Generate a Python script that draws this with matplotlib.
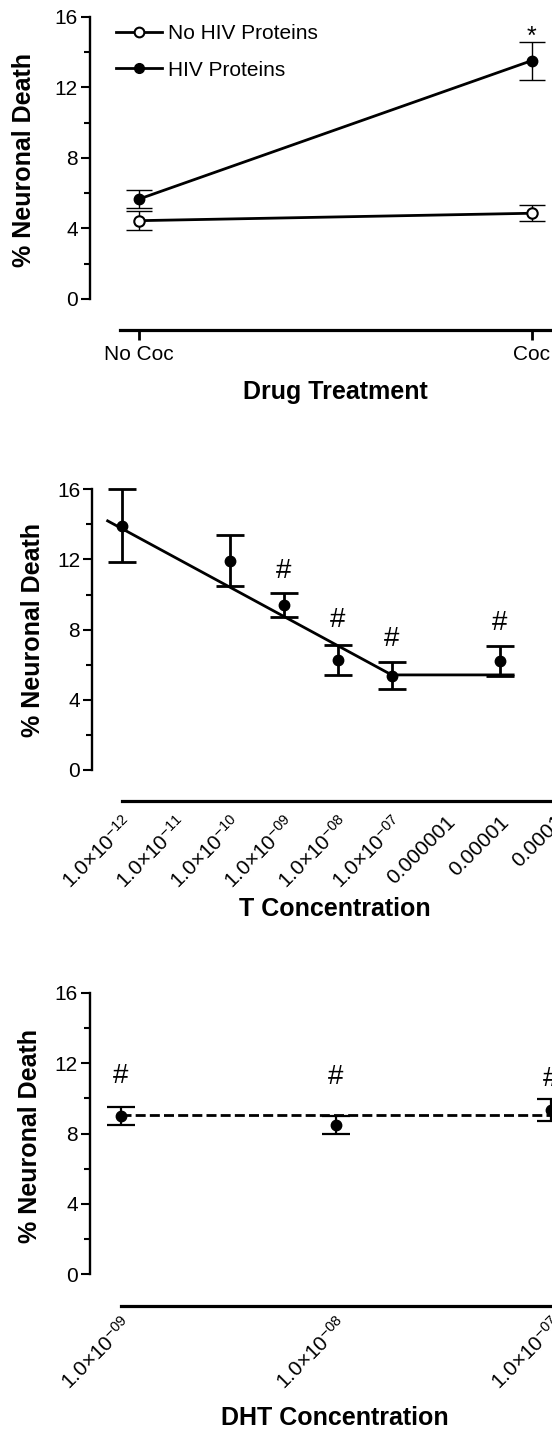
import matplotlib
matplotlib.use("Agg")
import matplotlib.pyplot as plt
from matplotlib.lines import Line2D
from matplotlib.ticker import AutoMinorLocator, FixedLocator, NullLocator

plt.rcParams['font.family'] = ['Liberation Sans', 'DejaVu Sans']
plt.rcParams['mathtext.fontset'] = 'custom'
plt.rcParams['mathtext.rm'] = 'Liberation Sans'
plt.rcParams['mathtext.it'] = 'Liberation Sans:italic'
plt.rcParams['mathtext.bf'] = 'Liberation Sans:bold'

#############################################################################
# Data
#############################################################################
# panel A: drug treatment
drug_groups = ["No Coc", "Coc"]
no_hiv_mean = [4.44, 4.86]
no_hiv_sem = [0.54, 0.45]
hiv_mean = [5.67, 13.51]
hiv_sem = [0.51, 1.07]
star_y = 14.85

# panel B: T concentration
t_conc = [1e-12, 1e-10, 1e-9, 1e-8, 1e-7, 1e-5]
t_mean = [13.93, 11.92, 9.41, 6.27, 5.38, 6.23]
t_sem = [2.07, 1.46, 0.70, 0.88, 0.76, 0.85]
t_hash_conc = [1e-9, 1e-8, 1e-7, 1e-5]
t_hash_y = [11.35, 8.55, 7.47, 8.36]
t_fit_conc = [10 ** -12.26, 1e-7, 10 ** -4.75]
t_fit_y = [14.2, 5.42, 5.42]
t_ticks = [1e-12, 1e-11, 1e-10, 1e-9, 1e-8, 1e-7, 1e-6, 1e-5, 1e-4]
t_ticklabels = [r"1.0×10$^{\mathregular{-12}}$", r"1.0×10$^{\mathregular{-11}}$",
                r"1.0×10$^{\mathregular{-10}}$", r"1.0×10$^{\mathregular{-09}}$",
                r"1.0×10$^{\mathregular{-08}}$", r"1.0×10$^{\mathregular{-07}}$",
                "0.000001", "0.00001", "0.0001"]

# panel C: DHT concentration
dht_conc = [1e-9, 1e-8, 1e-7]
dht_mean = [9.02, 8.49, 9.35]
dht_sem = [0.52, 0.53, 0.62]
dht_hash_y = [11.28, 11.2, 11.1]
dht_fit_y = 9.06
dht_ticklabels = [r"1.0×10$^{\mathregular{-09}}$", r"1.0×10$^{\mathregular{-08}}$",
                  r"1.0×10$^{\mathregular{-07}}$"]

#############################################################################
# Figure layout (pixel based, right side runs off the canvas like the original)
#############################################################################
W, H = 552, 1429
fig = plt.figure(figsize=(W / 100, H / 100), dpi=100)


def make_axes(left, y0, y16, right=W):
    ax = fig.add_axes([left / W, 1 - y0 / H, (right - left) / W, (y0 - y16) / H])
    ax.set_ylim(0, 16)
    ax.set_yticks([0, 4, 8, 12, 16])
    ax.yaxis.set_minor_locator(AutoMinorLocator(2))
    ax.spines['top'].set_visible(False)
    ax.spines['right'].set_visible(False)
    ax.spines['left'].set_linewidth(1.7)
    ax.spines['left'].set_bounds(0, 16)
    ax.spines['bottom'].set_linewidth(2.3)
    ax.spines['bottom'].set_position(('outward', 22.5))
    ax.tick_params(axis='y', which='major', length=6.7, width=1.5, labelsize=15, pad=2)
    ax.tick_params(axis='y', which='minor', length=4.3, width=1.5)
    return ax


def rotate_labels(ax):
    for lab in ax.get_xticklabels():
        lab.set_rotation(45)
        lab.set_ha('right')
        lab.set_va('top')
        lab.set_rotation_mode('anchor')


# ---------------- panel A ----------------
ax1 = make_axes(90, 299, 16.7)
ax1.set_xlim(-0.1256, 1.0517)
ax1.spines['bottom'].set_bounds(-0.0492, 1.0517)
xs = [0, 1]
ax1.errorbar(xs, no_hiv_mean, yerr=no_hiv_sem, fmt='none', ecolor='black',
             elinewidth=1, capsize=9.5, capthick=1, zorder=2)
ax1.errorbar(xs, hiv_mean, yerr=hiv_sem, fmt='none', ecolor='black',
             elinewidth=1, capsize=9.5, capthick=1, zorder=2)
ax1.plot(xs, no_hiv_mean, '-o', color='black', lw=2, ms=7.5, mfc='white',
         mec='black', mew=1.5, zorder=3, clip_on=False)
ax1.plot(xs, hiv_mean, '-o', color='black', lw=2, ms=7.5, mfc='black',
         mec='black', zorder=3, clip_on=False)
ax1.text(1, star_y, "*", ha='center', va='center', fontsize=18)
ax1.set_xticks(xs, drug_groups)
ax1.tick_params(axis='x', length=7, width=2, labelsize=15, pad=3.5)

handles = [Line2D([], [], color='black', lw=2, marker='o', ms=7, mfc='white', mew=1.5),
           Line2D([], [], color='black', lw=2, marker='o', ms=7, mfc='black')]
ax1.legend(handles, ["No HIV Proteins", "HIV Proteins"], loc='upper left',
           bbox_to_anchor=(116 / W, 1 - 24 / H), bbox_transform=fig.transFigure,
           frameon=False, borderpad=0, borderaxespad=0, handlelength=2.2,
           handletextpad=0.3, labelspacing=0.85, fontsize=15)

fig.text(24 / W, 1 - 160 / H, "% Neuronal Death", rotation=90, ha='center',
         va='center', fontsize=18, fontweight='bold')
fig.text(335 / W, 1 - 399 / H, "Drug Treatment", ha='center', va='baseline',
         fontsize=18, fontweight='bold')

# ---------------- panel B ----------------
ax2 = make_axes(92.3, 770, 489.3, right=560)
ax2.set_xscale('log')
ax2.set_xlim(10 ** -12.544, 10 ** -3.883)
ax2.spines['bottom'].set_bounds(1e-12, 10 ** -3.883)
ax2.errorbar(t_conc, t_mean, yerr=t_sem, fmt='o', color='black', ms=7.5,
             elinewidth=2, capsize=10, capthick=2, zorder=3, clip_on=False)
ax2.plot(t_fit_conc, t_fit_y, color='black', lw=2, zorder=2)
for xc, yc in zip(t_hash_conc, t_hash_y):
    ax2.text(xc, yc, "#", ha='center', va='center', fontsize=20)
ax2.xaxis.set_major_locator(FixedLocator(t_ticks))
ax2.xaxis.set_minor_locator(NullLocator())
ax2.set_xticklabels(t_ticklabels)
ax2.tick_params(axis='x', length=0, labelsize=15, pad=8)
rotate_labels(ax2)

fig.text(33 / W, 1 - 630 / H, "% Neuronal Death", rotation=90, ha='center',
         va='center', fontsize=18, fontweight='bold')
fig.text(335 / W, 1 - 916 / H, "T Concentration", ha='center', va='baseline',
         fontsize=18, fontweight='bold')

# ---------------- panel C ----------------
ax3 = make_axes(90, 1274.3, 993)
ax3.set_xscale('log')
ax3.set_xlim(10 ** -9.144, 10 ** -6.995)
ax3.spines['bottom'].set_bounds(1e-9, 10 ** -6.995)
ax3.errorbar(dht_conc, dht_mean, yerr=dht_sem, fmt='o', color='black', ms=7.5,
             elinewidth=1.6, capsize=10, capthick=1.6, zorder=3, clip_on=False)
ax3.plot([dht_conc[0], 1e-6], [dht_fit_y, dht_fit_y], color='black', lw=2,
         ls=(0, (3.6, 1.5)), zorder=2)
for xc, yc in zip(dht_conc, dht_hash_y):
    ax3.text(xc, yc, "#", ha='center', va='center', fontsize=20, clip_on=False)
ax3.xaxis.set_major_locator(FixedLocator(dht_conc))
ax3.xaxis.set_minor_locator(NullLocator())
ax3.set_xticklabels(dht_ticklabels)
ax3.tick_params(axis='x', length=0, labelsize=15, pad=6)
rotate_labels(ax3)

fig.text(30 / W, 1 - 1136 / H, "% Neuronal Death", rotation=90, ha='center',
         va='center', fontsize=18, fontweight='bold')
fig.text(335 / W, 1 - 1425 / H, "DHT Concentration", ha='center', va='baseline',
         fontsize=18, fontweight='bold')

fig.savefig("out.png", dpi=100)
